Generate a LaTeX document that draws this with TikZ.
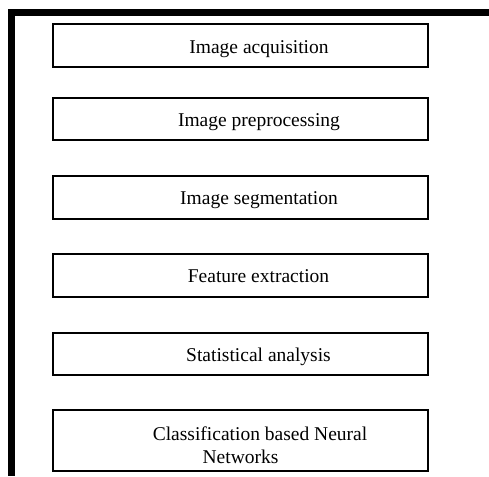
\documentclass[tikz,border=0pt]{standalone}
\usepackage{fontspec}
\setmainfont{Liberation Serif}
\begin{document}
\begin{tikzpicture}[x=1pt,y=1pt,
  stagebox/.style={draw=black,line width=2.4pt,minimum width=375pt,inner sep=0pt,outer sep=0pt},
  stagetext/.style={font=\fontsize{19.5}{23}\selectfont,inner sep=0pt,anchor=base}]
\useasboundingbox (0,0) rectangle (489,-476);
% frame
\draw[line width=6.6pt,miter limit=10] (489,-12.6) -- (11.2,-12.6) -- (11.2,-476);
% boxes
\node[stagebox,minimum height=43pt] (b1) at (240.5,-45.8) {};
\node[stagebox,minimum height=42pt] (b2) at (240.5,-119) {};
\node[stagebox,minimum height=43pt] (b3) at (240.5,-197.5) {};
\node[stagebox,minimum height=43pt] (b4) at (240.5,-275.5) {};
\node[stagebox,minimum height=42pt] (b5) at (240.5,-354) {};
\node[stagebox,minimum height=61pt] (b6) at (240.5,-440.5) {};
% texts
\node[stagetext] (t1) at ([xshift=18.5pt,yshift=-7.3pt]b1.center) {Image acquisition};
\node[stagetext] (t2) at ([xshift=18.5pt,yshift=-7.8pt]b2.center) {Image preprocessing};
\node[stagetext] (t3) at ([xshift=18.5pt,yshift=-7.3pt]b3.center) {Image segmentation};
\node[stagetext] (t4) at ([xshift=18pt,yshift=-7.3pt]b4.center) {Feature extraction};
\node[stagetext] (t5) at ([xshift=18pt,yshift=-7.3pt]b5.center) {Statistical analysis};
\node[stagetext] (t6a) at ([xshift=19.5pt,yshift=0.5pt]b6.center) {Classification based Neural};
\node[stagetext] (t6b) at ([xshift=0pt,yshift=-22.5pt]b6.center) {Networks};
\end{tikzpicture}
\end{document}
